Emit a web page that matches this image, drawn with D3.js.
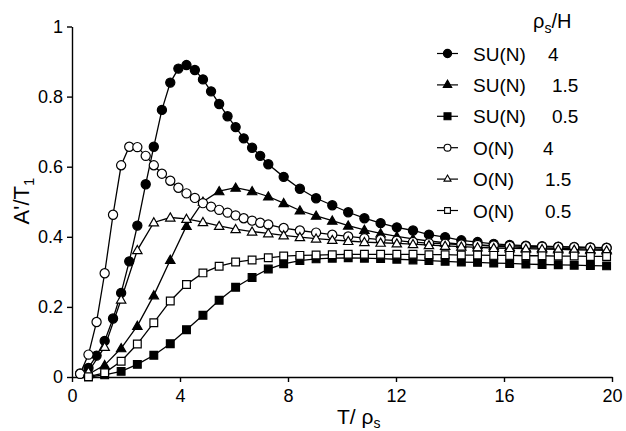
<!DOCTYPE html>
<html>
<head>
<meta charset="utf-8">
<script src="https://cdn.jsdelivr.net/npm/d3@7/dist/d3.min.js"></script>
<style>
  body { margin: 0; background: #fff; }
  svg { display: block; font-family: "Liberation Sans", Arial, Helvetica, sans-serif; }
  .axis path, .axis line { stroke: #000; stroke-width: 1.4; }
  .axis text { font-size: 18px; fill: #000; }
</style>
</head>
<body>
<svg id="chart" width="626" height="431"></svg>
<script>
// ------------------------------
// DATA: A'/T1 against T/rho_s
// ------------------------------
// fine grid (used by the circle series) and the coarser tail
var tFine = [0.30, 0.61, 0.91, 1.21, 1.52, 1.82, 2.12, 2.42, 2.73, 3.03, 3.33, 3.64,
             3.94, 4.24, 4.55, 4.85, 5.15, 5.45, 5.76, 6.06, 6.36, 6.67, 6.97, 7.27];
var tTail = [7.84, 8.44, 9.04, 9.64, 10.23, 10.83, 11.43, 12.03, 12.63, 13.22, 13.82,
             14.42, 15.02, 15.62, 16.21, 16.81, 17.41, 18.01, 18.60, 19.20, 19.80];
// every other point of the fine grid (triangle and square series)
var tHalf = [0.61, 1.21, 1.82, 2.42, 3.03, 3.64, 4.24, 4.85, 5.45, 6.06, 6.67, 7.27];

var suN4 = [0.010, 0.026, 0.061, 0.103, 0.167, 0.240, 0.330, 0.432, 0.550, 0.657, 0.762, 0.840,
            0.880, 0.890, 0.876, 0.849, 0.815, 0.779, 0.744, 0.713, 0.681, 0.654, 0.631, 0.607,
            0.571, 0.537, 0.510, 0.490, 0.470, 0.453, 0.439, 0.427, 0.418, 0.406, 0.399,
            0.390, 0.385, 0.380, 0.377, 0.375, 0.373, 0.372, 0.371, 0.370, 0.369];
var oN4  = [0.009, 0.064, 0.157, 0.296, 0.463, 0.604, 0.657, 0.656, 0.631, 0.604, 0.580, 0.560,
            0.540, 0.524, 0.511, 0.496, 0.486, 0.477, 0.469, 0.461, 0.453, 0.446, 0.440, 0.435,
            0.425, 0.418, 0.412, 0.406, 0.401, 0.396, 0.392, 0.389, 0.385, 0.382, 0.380,
            0.378, 0.377, 0.375, 0.374, 0.373, 0.372, 0.371, 0.370, 0.369, 0.368];
var suN15 = [0.008, 0.034, 0.082, 0.146, 0.233, 0.334, 0.431, 0.500, 0.530, 0.540, 0.530, 0.515,
             0.496, 0.475, 0.460, 0.446, 0.432, 0.420, 0.410, 0.401, 0.394, 0.388, 0.383,
             0.379, 0.376, 0.373, 0.371, 0.369, 0.368, 0.367, 0.366, 0.365, 0.364];
var oN15  = [0.015, 0.086, 0.221, 0.362, 0.441, 0.455, 0.451, 0.442, 0.431, 0.422, 0.415, 0.410,
             0.404, 0.399, 0.395, 0.391, 0.388, 0.385, 0.383, 0.381, 0.379, 0.376, 0.374,
             0.372, 0.370, 0.368, 0.367, 0.366, 0.365, 0.364, 0.363, 0.362, 0.361];
var suN05 = [0.000, 0.006, 0.016, 0.036, 0.062, 0.095, 0.135, 0.176, 0.219, 0.256, 0.284, 0.308,
             0.323, 0.332, 0.337, 0.339, 0.340, 0.339, 0.338, 0.336, 0.334, 0.332, 0.330,
             0.328, 0.327, 0.325, 0.324, 0.322, 0.321, 0.320, 0.319, 0.318, 0.317];
var oN05  = [0.001, 0.012, 0.045, 0.094, 0.155, 0.217, 0.264, 0.297, 0.316, 0.328, 0.334, 0.340,
             0.345, 0.347, 0.348, 0.349, 0.350, 0.350, 0.350, 0.350, 0.350, 0.349, 0.349,
             0.348, 0.348, 0.347, 0.347, 0.346, 0.346, 0.345, 0.345, 0.344, 0.344];

var xTicks = [0, 4, 8, 12, 16, 20];
var yTicks = [0, 0.2, 0.4, 0.6, 0.8, 1];

// series: model name, rho_s/H, marker shape, filled or open
var groups = ["SU(N)", "SU(N)", "SU(N)", "O(N)", "O(N)", "O(N)"];
var ratios = ["4", "1.5", "0.5", "4", "1.5", "0.5"];
var shapes = ["circle", "triangle", "square", "circle", "triangle", "square"];
var filled = [true, true, true, false, false, false];
var values = [suN4, suN15, suN05, oN4, oN15, oN05];
var xs = [tFine.concat(tTail), tHalf.concat(tTail), tHalf.concat(tTail),
          tFine.concat(tTail), tHalf.concat(tTail), tHalf.concat(tTail)];

// ------------------------------
// SCALES AND AXES
// ------------------------------
var svg = d3.select("#chart");
var plotLeft = 72, plotRight = 612, plotTop = 26.5, plotBottom = 377;

var x = d3.scaleLinear().domain([0, 20]).range([plotLeft, plotRight]);
var y = d3.scaleLinear().domain([0, 1]).range([plotBottom, plotTop]);

svg.append("g")
    .attr("class", "axis")
    .attr("transform", "translate(0," + plotBottom + ")")
    .call(d3.axisBottom(x).tickValues(xTicks).tickSize(5).tickSizeOuter(0).tickPadding(7)
            .tickFormat(d3.format("d")));

svg.append("g")
    .attr("class", "axis")
    .attr("transform", "translate(" + plotLeft + ",0)")
    .call(d3.axisLeft(y).tickValues(yTicks).tickSize(5).tickSizeOuter(0).tickPadding(4)
            .tickFormat(function(d){ return d === 0 || d === 1 ? d : d.toFixed(1); }));

// axis titles
var yt = svg.append("text")
    .attr("transform", "translate(29,201) rotate(-90)")
    .attr("text-anchor", "middle")
    .style("font-size", "22px");
yt.append("tspan").text("A'/T");
yt.append("tspan").attr("dy", 5).style("font-size", "15px").text("1");

var xt = svg.append("text")
    .attr("x", 337).attr("y", 424)
    .style("font-size", "21px");
xt.append("tspan").text("T/ ρ");
xt.append("tspan").attr("dy", 4).style("font-size", "14px").text("s");

// ------------------------------
// MARKERS
// ------------------------------
function symbolFor(shape, scale) {
    var type = shape === "circle" ? d3.symbolCircle : shape === "triangle" ? d3.symbolTriangle : d3.symbolSquare;
    var size = shape === "circle" ? 66 : shape === "triangle" ? 38 : 60;
    return d3.symbol().type(type).size(size * scale * scale)();
}

var line = d3.line()
    .x(function(d){ return x(d[0]); })
    .y(function(d){ return y(d[1]); });

// filled series first, open ones on top
values.forEach(function(vals, i) {
    var pts = vals.map(function(v, j){ return [xs[i][j], v]; });
    var g = svg.append("g");

    g.append("path")
        .datum(pts)
        .attr("d", line)
        .attr("fill", "none")
        .attr("stroke", "#000")
        .attr("stroke-width", 1.3);

    g.selectAll(".pt")
        .data(pts)
      .enter().append("path")
        .attr("transform", function(d){
            // triangles are shifted so their box is centred on the point
            var dy = shapes[i] === "triangle" ? 0.8 : 0;
            return "translate(" + x(d[0]) + "," + (y(d[1]) + dy) + ")";
        })
        .attr("d", symbolFor(shapes[i], 1))
        .attr("fill", filled[i] ? "#000" : "#fff")
        .attr("stroke", "#000")
        .attr("stroke-width", 1.2);
});

// ------------------------------
// LEGEND
// ------------------------------
var head = svg.append("text").attr("x", 533).attr("y", 28).style("font-size", "20px");
head.append("tspan").text("ρ");
head.append("tspan").attr("dy", 5).style("font-size", "14px").text("s");
head.append("tspan").attr("dy", -5).text("/H");

var legend = svg.selectAll(".legend")
    .data(groups)
  .enter().append("g")
    .attr("class", "legend")
    .attr("transform", function(d, i){ return "translate(0," + (53.5 + i * 31.4) + ")"; });

legend.append("line")
    .attr("x1", 437).attr("x2", 458)
    .attr("stroke", "#000").attr("stroke-width", 1.2);

legend.append("path")
    .attr("transform", "translate(447.5,0)")
    .attr("d", function(d, i){ return symbolFor(shapes[i], filled[i] ? 0.9 : 0.75); })
    .attr("fill", function(d, i){ return filled[i] ? "#000" : "#fff"; })
    .attr("stroke", "#000").attr("stroke-width", 1.1);

legend.append("text")
    .attr("x", 473).attr("y", 7)
    .style("font-size", "19px")
    .text(function(d){ return d; });

legend.append("text")
    .attr("x", function(d, i){ return filled[i] ? (ratios[i] === "4" ? 548 : 552) : (ratios[i] === "4" ? 543 : 545); })
    .attr("y", 7)
    .style("font-size", "19px")
    .text(function(d, i){ return ratios[i]; });
</script>
</body>
</html>
